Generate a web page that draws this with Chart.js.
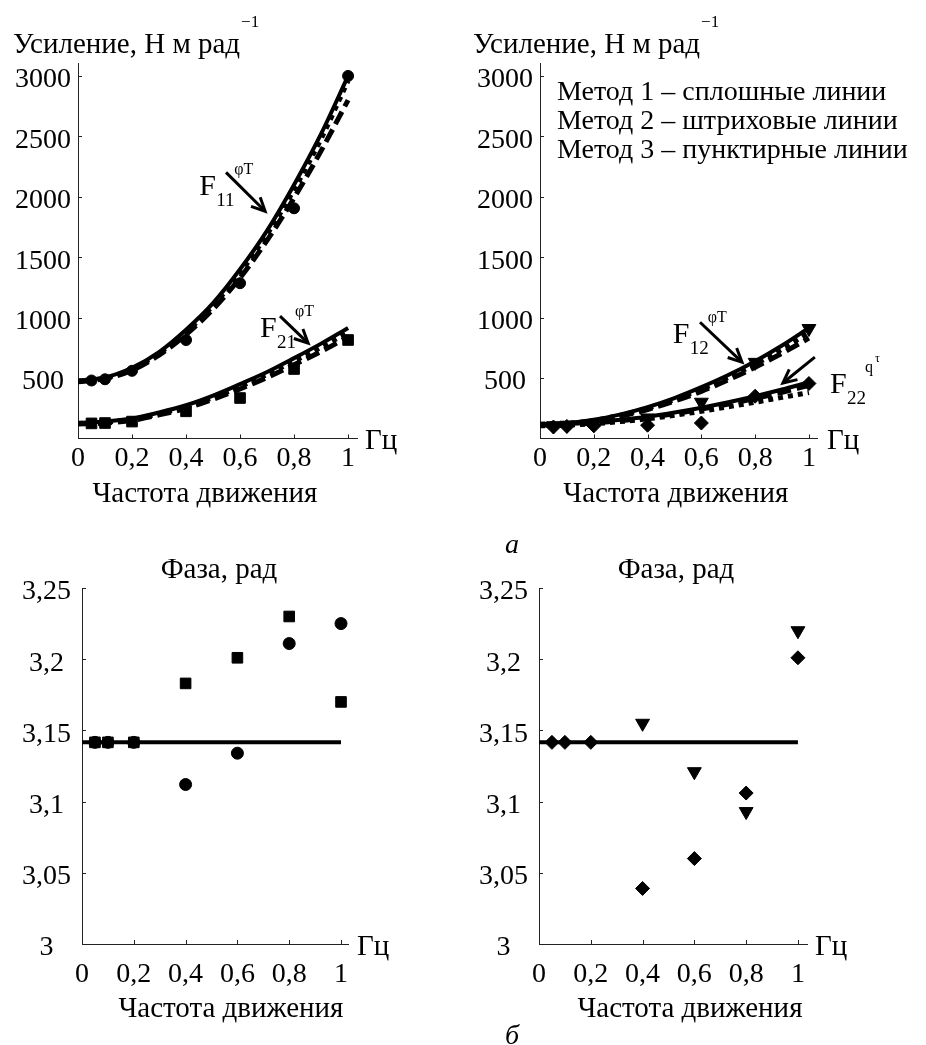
<!DOCTYPE html>
<html><head><meta charset="utf-8">
<script src="https://cdn.jsdelivr.net/npm/chart.js@4.4.1/dist/chart.umd.min.js"></script>
<style>
html,body{margin:0;padding:0;background:#fff;}
body{width:926px;height:1045px;position:relative;overflow:hidden;font-family:"Liberation Serif","Times New Roman",serif;}
.box{position:absolute;}
.lbl{position:absolute;font-style:italic;font-size:28px;color:#000;line-height:1;}
</style></head><body>
<div class="box" style="left:0;top:0;width:463px;height:520px"><canvas id="c1"></canvas></div>
<div class="box" style="left:463px;top:0;width:463px;height:520px"><canvas id="c2"></canvas></div>
<div class="box" style="left:0;top:520px;width:463px;height:525px"><canvas id="c3"></canvas></div>
<div class="box" style="left:463px;top:520px;width:463px;height:525px"><canvas id="c4"></canvas></div>
<div class="lbl" style="left:505px;top:530px">а</div>
<div class="lbl" style="left:505px;top:1021px">б</div>
<script>
// ---------- data ----------
const CURVE_X = [0, 0.1, 0.2, 0.3, 0.4, 0.5, 0.6, 0.7, 0.8, 0.9, 1];
const MARK_X  = [0.05, 0.1, 0.2, 0.4, 0.6, 0.8, 1];

const F11_M1  = [480, 505, 585, 715, 900, 1120, 1400, 1720, 2100, 2520, 3000];
const F11_M2  = [470, 495, 565, 690, 860, 1070, 1330, 1640, 1990, 2380, 2800];
const F11_M3  = [475, 500, 575, 705, 880, 1100, 1370, 1690, 2060, 2480, 2960];
const F11_EXP = [480, 490, 560, 815, 1285, 1905, 3000];

const F21_M1  = [130, 140, 165, 215, 275, 355, 450, 550, 665, 785, 915];
const F21_M2  = [120, 128, 150, 195, 250, 325, 410, 505, 610, 720, 840];
const F21_M3  = [125, 135, 160, 205, 265, 340, 430, 530, 640, 755, 880];
const F21_EXP = [125, 128, 140, 225, 335, 575, 815];

const F12_M1  = [120, 128, 155, 200, 260, 335, 425, 525, 640, 770, 915];
const F12_M2  = [115, 122, 145, 185, 240, 310, 390, 485, 590, 705, 830];
const F12_M3  = [118, 125, 150, 193, 250, 322, 408, 505, 615, 740, 875];
const F12_EXP = [105, 110, 115, 170, 300, 630, 910];

const F22_M1  = [115, 120, 135, 155, 180, 215, 255, 300, 350, 405, 465];
const F22_M2  = [110, 115, 128, 148, 172, 205, 243, 285, 332, 383, 440];
const F22_M3  = [105, 110, 122, 140, 163, 192, 225, 262, 300, 340, 380];
const F22_EXP = [95, 100, 105, 110, 128, 350, 455];

const PHASE_X = [0.05, 0.1, 0.2, 0.4, 0.6, 0.8, 1];
const PH11 = [3.1416, 3.1416, 3.1416, 3.112, 3.134, 3.211, 3.225];
const PH21 = [3.1416, 3.1416, 3.1416, 3.183, 3.201, 3.230, 3.170];
const PH12 = [null, null, null, 3.155, 3.121, 3.093, 3.220];
const PH22 = [3.1416, 3.1416, 3.1416, 3.039, 3.060, 3.106, 3.201];
const PI_X = [0, 1];
const PI_Y = [3.1416, 3.1416];

const X_TICKS = [0, 0.2, 0.4, 0.6, 0.8, 1];
const GAIN_TICKS = [500, 1000, 1500, 2000, 2500, 3000];
const PHASE_TICKS = [3, 3.05, 3.1, 3.15, 3.2, 3.25];

// ---------- helpers ----------
const FAM = '"Liberation Serif","Times New Roman",serif';
Chart.defaults.font.family = FAM;
Chart.defaults.color = '#000';
const pts = (xs, ys) => xs.map((x, i) => ({x, y: ys[i]}));
const fmt = v => String(Math.round(v * 100) / 100).replace('.', ',');

function lineDs(xs, ys, kind) {
  const d = {data: pts(xs, ys), borderColor: '#000', pointRadius: 0, fill: false,
    cubicInterpolationMode: 'monotone', borderCapStyle: 'butt', borderJoinStyle: 'round'};
  if (kind === 'solid') { d.borderWidth = 4; d.order = 3; }
  if (kind === 'dash')  { d.borderWidth = 5; d.borderDash = [14, 6]; d.order = 2; }
  if (kind === 'dot')   { d.borderWidth = 5; d.borderDash = [5, 5]; d.order = 1; }
  return d;
}
function markDs(xs, ys, style, r, rot) {
  return {data: pts(xs, ys), showLine: false, pointStyle: style, pointRadius: r,
    pointRotation: rot || 0, pointBackgroundColor: '#000', pointBorderColor: '#000',
    pointBorderWidth: 1, order: 0, clip: false};
}

function P(chart, spec, axis) {
  const ca = chart.chartArea, s = chart.scales[axis];
  if (spec.v !== undefined) return s.getPixelForValue(spec.v);
  if (axis === 'x') return spec.l !== undefined ? ca.left + spec.l : ca.right + spec.r;
  return spec.t !== undefined ? ca.top + spec.t : ca.bottom + spec.b;
}

const annotPlugin = {
  id: 'annot',
  afterDraw(chart, args, opts) {
    const ctx = chart.ctx, xs = chart.scales.x, ys = chart.scales.y, ca = chart.chartArea;
    ctx.save();
    ctx.strokeStyle = '#222'; ctx.lineWidth = 1;
    xs.ticks.forEach(t => {
      const p = Math.round(xs.getPixelForValue(t.value)) + 0.5;
      ctx.beginPath(); ctx.moveTo(p, ca.bottom); ctx.lineTo(p, ca.bottom - 4); ctx.stroke();
    });
    ys.ticks.forEach(t => {
      const p = Math.round(ys.getPixelForValue(t.value)) + 0.5;
      ctx.beginPath(); ctx.moveTo(ca.left, p); ctx.lineTo(ca.left + 4, p); ctx.stroke();
    });
    ctx.fillStyle = '#000'; ctx.strokeStyle = '#000';
    (opts.items || []).forEach(it => {
      const x = P(chart, it.x, 'x'), y = P(chart, it.y, 'y');
      if (it.type === 'text') {
        ctx.font = (it.size || 29) + 'px ' + FAM;
        ctx.textAlign = it.align || 'left';
        ctx.textBaseline = it.base || 'alphabetic';
        ctx.fillText(it.text, x, y);
        if (it.sup) {
          const w = ctx.measureText(it.text).width;
          ctx.font = '17px ' + FAM; ctx.textAlign = 'left'; ctx.textBaseline = 'alphabetic';
          ctx.fillText(it.sup, x + w + 1, y - 26);
        }
      } else if (it.type === 'F') {
        ctx.textAlign = 'left'; ctx.textBaseline = 'alphabetic';
        ctx.font = '30px ' + FAM; ctx.fillText('F', x, y);
        ctx.font = '19px ' + FAM; ctx.fillText(it.sub, x + (it.subDx || 17), y + (it.subDy || 11));
        ctx.font = '16px ' + FAM; ctx.fillText(it.sup, x + (it.supDx || 35), y - (it.supDy || 21));
        if (it.sup2) { ctx.font = '12px ' + FAM; ctx.fillText(it.sup2, x + it.sup2Dx, y - it.sup2Dy); }
      } else if (it.type === 'arrow') {
        const x2 = P(chart, it.x2, 'x'), y2 = P(chart, it.y2, 'y');
        ctx.lineWidth = 3; ctx.lineCap = 'butt';
        ctx.beginPath(); ctx.moveTo(x, y); ctx.lineTo(x2, y2); ctx.stroke();
        const a = Math.atan2(y2 - y, x2 - x), L = 15, h = 0.45;
        ctx.beginPath();
        ctx.moveTo(x2 - L * Math.cos(a - h), y2 - L * Math.sin(a - h));
        ctx.lineTo(x2, y2);
        ctx.lineTo(x2 - L * Math.cos(a + h), y2 - L * Math.sin(a + h));
        ctx.stroke();
      }
    });
    ctx.restore();
  }
};

function makeChart(id, cfg) {
  const tickFont = {size: 28, family: FAM};
  return new Chart(document.getElementById(id), {
    type: 'line',
    data: {datasets: cfg.datasets},
    plugins: [annotPlugin],
    options: {
      responsive: true, maintainAspectRatio: false, animation: false, devicePixelRatio: 1,
      events: [],
      layout: {padding: cfg.pad},
      plugins: {legend: {display: false}, tooltip: {enabled: false}, annot: {items: cfg.items}},
      scales: {
        x: {type: 'linear', min: 0, max: cfg.xmax,
          afterBuildTicks: s => { s.ticks = X_TICKS.map(v => ({value: v})); },
          afterFit: s => { s.height = 50; },
          ticks: {callback: fmt, font: tickFont, color: '#000', padding: cfg.xpad, maxRotation: 0, autoSkip: false},
          grid: {display: false, drawTicks: false},
          border: {display: true, color: '#222', width: 1}},
        y: {type: 'linear', min: cfg.ymin, max: cfg.ymax,
          afterBuildTicks: s => { s.ticks = cfg.yticks.map(v => ({value: v})); },
          afterFit: s => { s.width = cfg.yw; },
          ticks: {callback: fmt, font: tickFont, color: '#000', padding: cfg.ypad, crossAlign: 'center',
            autoSkip: false, labelOffset: 4},
          grid: {display: false, drawTicks: false},
          border: {display: true, color: '#222', width: 1}}
      }
    }
  });
}

// ---------- top-left ----------
makeChart('c1', {
  xmax: 1.033, ymin: 0, ymax: 3107, yticks: GAIN_TICKS, yw: 78, ypad: 7, xpad: 3,
  pad: {left: 0, right: 106, top: 63, bottom: 31.5},
  datasets: [
    markDs(MARK_X, F11_EXP, 'circle', 5.5),
    markDs(MARK_X, F21_EXP, 'rect', 7.5),
    lineDs(CURVE_X, F11_M3, 'dot'), lineDs(CURVE_X, F11_M2, 'dash'), lineDs(CURVE_X, F11_M1, 'solid'),
    lineDs(CURVE_X, F21_M3, 'dot'), lineDs(CURVE_X, F21_M2, 'dash'), lineDs(CURVE_X, F21_M1, 'solid')
  ],
  items: [
    {type: 'text', text: 'Усиление, Н м рад', sup: '\u22121', size: 29, x: {l: -65}, y: {t: -10}},
    {type: 'text', text: 'Гц', size: 29, x: {r: 8}, y: {b: 3}, base: 'middle'},
    {type: 'text', text: 'Частота движения', size: 29, x: {v: 0.47}, y: {b: 63}, align: 'center'},
    {type: 'F', sub: '11', sup: 'φT', x: {v: 0.449}, y: {v: 2012}},
    {type: 'arrow', x: {v: 0.548}, y: {v: 2202}, x2: {v: 0.693}, y2: {v: 1880}},
    {type: 'F', sub: '21', sup: 'φT', x: {v: 0.674}, y: {v: 839}},
    {type: 'arrow', x: {v: 0.748}, y: {v: 1012}, x2: {v: 0.852}, y2: {v: 789}}
  ]
});

// ---------- top-right ----------
makeChart('c2', {
  xmax: 1.03, ymin: 0, ymax: 3107, yticks: GAIN_TICKS, yw: 77, ypad: 7, xpad: 3,
  pad: {left: 0, right: 109, top: 63, bottom: 31.5},
  datasets: [
    markDs(MARK_X, F12_EXP, 'triangle', 8, 180),
    markDs(MARK_X, F22_EXP, 'rectRot', 7),
    lineDs(CURVE_X, F12_M3, 'dot'), lineDs(CURVE_X, F12_M2, 'dash'), lineDs(CURVE_X, F12_M1, 'solid'),
    lineDs(CURVE_X, F22_M3, 'dot'), lineDs(CURVE_X, F22_M2, 'dash'), lineDs(CURVE_X, F22_M1, 'solid')
  ],
  items: [
    {type: 'text', text: 'Усиление, Н м рад', sup: '\u22121', size: 29, x: {l: -67}, y: {t: -10}},
    {type: 'text', text: 'Гц', size: 29, x: {r: 10}, y: {b: 3}, base: 'middle'},
    {type: 'text', text: 'Частота движения', size: 29, x: {v: 0.505}, y: {b: 63}, align: 'center'},
    {type: 'text', text: 'Метод 1 – сплошные линии', size: 28, x: {l: 17}, y: {t: 37}},
    {type: 'text', text: 'Метод 2 – штриховые линии', size: 28, x: {l: 17}, y: {t: 66}},
    {type: 'text', text: 'Метод 3 – пунктирные линии', size: 28, x: {l: 17}, y: {t: 95}},
    {type: 'F', sub: '12', sup: 'φT', x: {v: 0.494}, y: {v: 789}},
    {type: 'arrow', x: {v: 0.595}, y: {v: 962}, x2: {v: 0.751}, y2: {v: 632}},
    {type: 'F', sub: '22', sup: 'q', sup2: 'τ', sup2Dx: 45, sup2Dy: 31, x: {v: 1.078}, y: {v: 376}},
    {type: 'arrow', x: {v: 1.022}, y: {v: 673}, x2: {v: 0.903}, y2: {v: 459}}
  ]
});

// ---------- bottom-left ----------
makeChart('c3', {
  xmax: 1.027, ymin: 3, ymax: 3.25, yticks: PHASE_TICKS, yw: 82, ypad: 11, xpad: 14,
  pad: {left: 0, right: 115, top: 68, bottom: 51},
  datasets: [
    markDs(PHASE_X, PH11, 'circle', 6),
    markDs(PHASE_X, PH21, 'rect', 7.5),
    Object.assign(lineDs(PI_X, PI_Y, 'solid'), {cubicInterpolationMode: 'default', tension: 0})
  ],
  items: [
    {type: 'text', text: 'Фаза, рад', size: 29, x: {l: 137}, y: {t: -10}, align: 'center'},
    {type: 'text', text: 'Гц', size: 29, x: {r: 9}, y: {b: 3}, base: 'middle'},
    {type: 'text', text: 'Частота движения', size: 29, x: {v: 0.575}, y: {b: 73}, align: 'center'}
  ]
});

// ---------- bottom-right ----------
makeChart('c4', {
  xmax: 1.035, ymin: 3, ymax: 3.25, yticks: PHASE_TICKS, yw: 76, ypad: 11, xpad: 14,
  pad: {left: 0, right: 119, top: 68, bottom: 51},
  datasets: [
    markDs(PHASE_X, PH12, 'triangle', 8, 180),
    markDs(PHASE_X, PH22, 'rectRot', 7),
    Object.assign(lineDs(PI_X, PI_Y, 'solid'), {cubicInterpolationMode: 'default', tension: 0})
  ],
  items: [
    {type: 'text', text: 'Фаза, рад', size: 29, x: {l: 137}, y: {t: -10}, align: 'center'},
    {type: 'text', text: 'Гц', size: 29, x: {r: 8}, y: {b: 3}, base: 'middle'},
    {type: 'text', text: 'Частота движения', size: 29, x: {v: 0.583}, y: {b: 73}, align: 'center'}
  ]
});
</script>
</body></html>
